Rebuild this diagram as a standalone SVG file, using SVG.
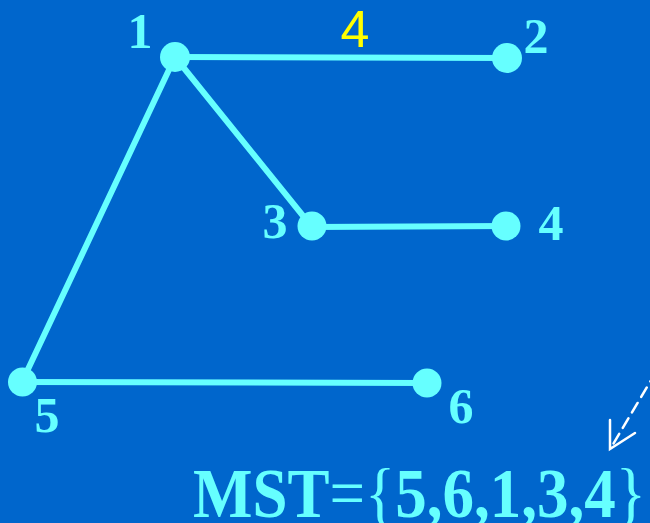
<svg xmlns="http://www.w3.org/2000/svg" width="650" height="523" viewBox="0 0 650 523">
<style>
.edge{stroke:#66FFFF;stroke-width:6;stroke-linecap:round;fill:none}
.node{fill:#66FFFF}
.lbl{font-family:"Liberation Serif","Times New Roman",serif;font-weight:bold;font-size:50px;fill:#66FFFF;text-anchor:middle}
.w{font-family:"Liberation Sans",Arial,sans-serif;font-size:52px;fill:#FFFF00;text-anchor:middle}
.mst{font-family:"Liberation Serif","Times New Roman",serif;font-size:63px;fill:#66FFFF}
</style>
<rect width="650" height="523" fill="#0066CC"/>
<g id="connectors">
<line class="edge" x1="175" y1="57" x2="507" y2="58"/>
<line class="edge" x1="175" y1="57" x2="312" y2="227"/>
<line class="edge" x1="175" y1="57" x2="22" y2="382"/>
<line class="edge" x1="312" y1="227" x2="507" y2="226"/>
<line class="edge" x1="22" y1="382" x2="427" y2="383"/>
<text class="w" x="355" y="47">4</text>
</g>
<g id="n1"><circle class="node" cx="175" cy="57" r="15"/><text class="lbl" x="140" y="48">1</text></g>
<g id="n2"><circle class="node" cx="507" cy="58" r="15"/><text class="lbl" x="536" y="53">2</text></g>
<g id="n3"><circle class="node" cx="312" cy="226" r="14.5"/><text class="lbl" x="275" y="238">3</text></g>
<g id="n4"><circle class="node" cx="506" cy="226" r="14.5"/><text class="lbl" x="551" y="240">4</text></g>
<g id="n5"><circle class="node" cx="22.5" cy="382" r="14.5"/><text class="lbl" x="47" y="432">5</text></g>
<g id="n6"><circle class="node" cx="427" cy="383" r="14.5"/><text class="lbl" x="461" y="423">6</text></g>
<g id="arrow" stroke="#FFFFFF" stroke-width="2.5" fill="none" stroke-linecap="round">
<line x1="656" y1="372" x2="612" y2="446" stroke-dasharray="11,7"/>
<polyline points="610,420 610,449 635,433"/>
</g>
<text class="mst" transform="translate(193,517) scale(1,1.1)"><tspan font-weight="bold">MST</tspan>={<tspan font-weight="bold">5,6,1,3,4</tspan>}</text>
</svg>
